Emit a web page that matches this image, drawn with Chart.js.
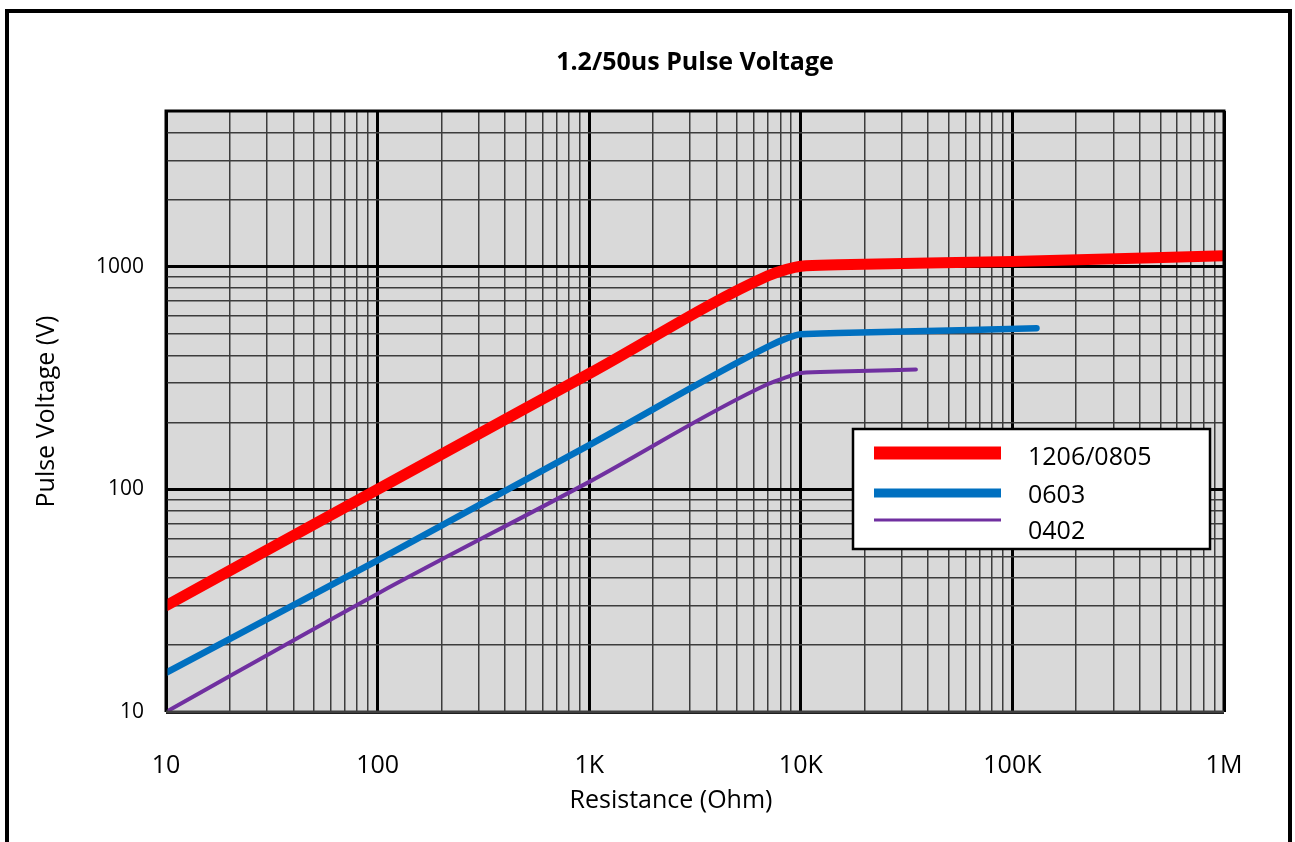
<!DOCTYPE html>
<html>
<head>
<meta charset="utf-8">
<title>1.2/50us Pulse Voltage</title>
<script src="https://cdn.jsdelivr.net/npm/chart.js@4.4.1/dist/chart.umd.min.js"></script>
<style>
  html, body { margin: 0; padding: 0; background: #fff; }
  #wrap { position: relative; width: 1295px; height: 842px; }
</style>
</head>
<body>
<div id="wrap"><canvas id="pulseChart"></canvas></div>
<script>
// resistance (ohm) and pulse voltage (V)
var redR    = [10, 100, 1000, 7000, 8500, 10000, 15000, 100000, 1000000];
var redV    = [30, 100, 331, 910, 970, 1005, 1020, 1055, 1120];
var blueR   = [10, 100, 1000, 7000, 8500, 10000, 15000, 130000];
var blueV   = [15, 48, 158, 437, 475, 497, 503, 529];
var purpleR = [10, 100, 1000, 7000, 8500, 10000, 15000, 35000];
var purpleV = [10, 34, 108, 297, 318, 333, 338, 345];

var seriesNames = ['1206/0805', '0603', '0402'];

var xMajor  = [10, 100, 1000, 10000, 100000, 1000000];
var xLabels = ['10', '100', '1K', '10K', '100K', '1M'];
var yMajor  = [10, 100, 1000];
var yLabels = ['10', '100', '1000'];

var xTitle = 'Resistance (Ohm)';

var FONT = "'Open Sans', 'DejaVu Sans', sans-serif";

function toPoints(xs, ys) {
    return xs.map(function (x, i) { return { x: x, y: ys[i] }; });
}

// decade lines plus the 2..9 lines between them
function logTicks(min, max) {
    var out = [];
    for (var d = min; d < max; d *= 10) {
        for (var m = 1; m < 10; m++) {
            if (d * m <= max) out.push(d * m);
        }
    }
    out.push(max);
    return out;
}

function isMajor(v) {
    var l = Math.log10(v);
    return Math.abs(l - Math.round(l)) < 1e-9;
}

var gridStyle = {
    color: function (c) { return c.tick && isMajor(c.tick.value) ? '#000' : '#3c3c3c'; },
    lineWidth: function (c) { return c.tick && isMajor(c.tick.value) ? 3 : 1.5; },
    drawTicks: false
};

var plotDecor = {
    id: 'plotDecor',
    beforeDraw: function (chart) {
        var ctx = chart.ctx, a = chart.chartArea;
        ctx.save();
        ctx.fillStyle = '#fff';
        ctx.fillRect(0, 0, chart.width, chart.height);
        ctx.fillStyle = '#d9d9d9';
        ctx.fillRect(a.left, a.top, a.right - a.left, a.bottom - a.top);
        // outer frame, open at the bottom
        ctx.strokeStyle = '#000';
        ctx.lineWidth = 4;
        ctx.beginPath();
        ctx.moveTo(7, chart.height + 5);
        ctx.lineTo(7, 11);
        ctx.lineTo(1290, 11);
        ctx.lineTo(1290, chart.height + 5);
        ctx.stroke();
        ctx.restore();
    },
    afterDatasetsDraw: function (chart) {
        var ctx = chart.ctx, a = chart.chartArea;
        ctx.save();
        ctx.strokeStyle = '#000';
        ctx.lineWidth = 3;
        ctx.beginPath();
        ctx.moveTo(a.left, a.bottom);
        ctx.lineTo(a.left, a.top);
        ctx.lineTo(a.right, a.top);
        ctx.lineTo(a.right, a.bottom);
        ctx.stroke();
        ctx.strokeStyle = '#404040';
        ctx.beginPath();
        ctx.moveTo(a.left, a.bottom);
        ctx.lineTo(a.right, a.bottom);
        ctx.stroke();
        ctx.restore();
    },
    afterDraw: function (chart) {
        var ctx = chart.ctx;
        // x axis title sits a little left of the plot centre
        ctx.save();
        ctx.fillStyle = '#000';
        ctx.font = '25px ' + FONT;
        ctx.textAlign = 'center';
        ctx.textBaseline = 'middle';
        ctx.fillText(xTitle, 671, 801);
        ctx.restore();

        var box = { x: 853, y: 429, w: 357, h: 120 };
        var rows = [453, 493, 520];
        var textY = [458, 496, 532];
        var sampleW = [13, 9, 3];
        ctx.save();
        ctx.fillStyle = '#fff';
        ctx.fillRect(box.x, box.y, box.w, box.h);
        ctx.strokeStyle = '#000';
        ctx.lineWidth = 2.5;
        ctx.strokeRect(box.x, box.y, box.w, box.h);
        chart.data.datasets.forEach(function (ds, i) {
            ctx.strokeStyle = ds.borderColor;
            ctx.lineWidth = sampleW[i];
            ctx.lineCap = 'butt';
            ctx.beginPath();
            ctx.moveTo(874, rows[i]);
            ctx.lineTo(1001, rows[i]);
            ctx.stroke();
            ctx.fillStyle = '#000';
            ctx.font = '25px ' + FONT;
            ctx.textBaseline = 'middle';
            ctx.textAlign = 'left';
            ctx.fillText(ds.label, 1028, textY[i]);
        });
        ctx.restore();
    }
};

var ctx = document.getElementById('pulseChart');

new Chart(ctx, {
    type: 'line',
    data: {
        datasets: [
            {
                label: seriesNames[0],
                data: toPoints(redR, redV),
                borderColor: '#ff0000',
                borderWidth: 11,
            },
            {
                label: seriesNames[1],
                data: toPoints(blueR, blueV),
                borderColor: '#0070c0',
                borderWidth: 6.5,
            },
            {
                label: seriesNames[2],
                data: toPoints(purpleR, purpleV),
                borderColor: '#7030a0',
                borderWidth: 4,
            }
        ]
    },
    options: {
        responsive: true,
        maintainAspectRatio: false,
        animation: false,
        layout: { padding: { left: 0, right: 71, top: 0, bottom: 0 } },
        elements: {
            point: { radius: 0, hoverRadius: 0 },
            line: { cubicInterpolationMode: 'monotone', borderCapStyle: 'round', fill: false }
        },
        datasets: { line: { clip: 0 } },
        plugins: {
            legend: { display: false },
            tooltip: { enabled: false },
            title: {
                display: true,
                fullSize: false,
                text: '1.2/50us Pulse Voltage',
                color: '#000',
                font: { family: FONT, size: 25, weight: 'bold' },
                padding: { top: 48, bottom: 33 }
            }
        },
        scales: {
            x: {
                type: 'logarithmic',
                min: 10,
                max: 1000000,
                afterBuildTicks: function (s) {
                    s.ticks = logTicks(10, 1000000).map(function (v) { return { value: v }; });
                },
                afterFit: function (s) { s.height = 130; },
                ticks: {
                    autoSkip: false,
                    maxRotation: 0,
                    padding: 39,
                    color: '#000',
                    font: { family: FONT, size: 25 },
                    callback: function (v) {
                        var i = xMajor.indexOf(v);
                        return i < 0 ? '' : xLabels[i];
                    }
                },
                grid: gridStyle,
                border: { display: false },
                title: { display: false }
            },
            y: {
                type: 'logarithmic',
                min: 10,
                max: 5000,
                afterBuildTicks: function (s) {
                    s.ticks = logTicks(10, 5000).map(function (v) { return { value: v }; });
                },
                afterFit: function (s) { s.width = 166; },
                ticks: {
                    autoSkip: false,
                    padding: 22,
                    color: '#000',
                    font: { family: FONT, size: 21 },
                    callback: function (v) {
                        var i = yMajor.indexOf(v);
                        return i < 0 ? '' : yLabels[i];
                    }
                },
                grid: gridStyle,
                border: { display: false },
                title: {
                    display: true,
                    text: 'Pulse Voltage (V)',
                    color: '#000',
                    font: { family: FONT, size: 25 },
                    padding: { top: 32, bottom: 0 }
                }
            }
        }
    },
    plugins: [plotDecor]
});
</script>
</body>
</html>
